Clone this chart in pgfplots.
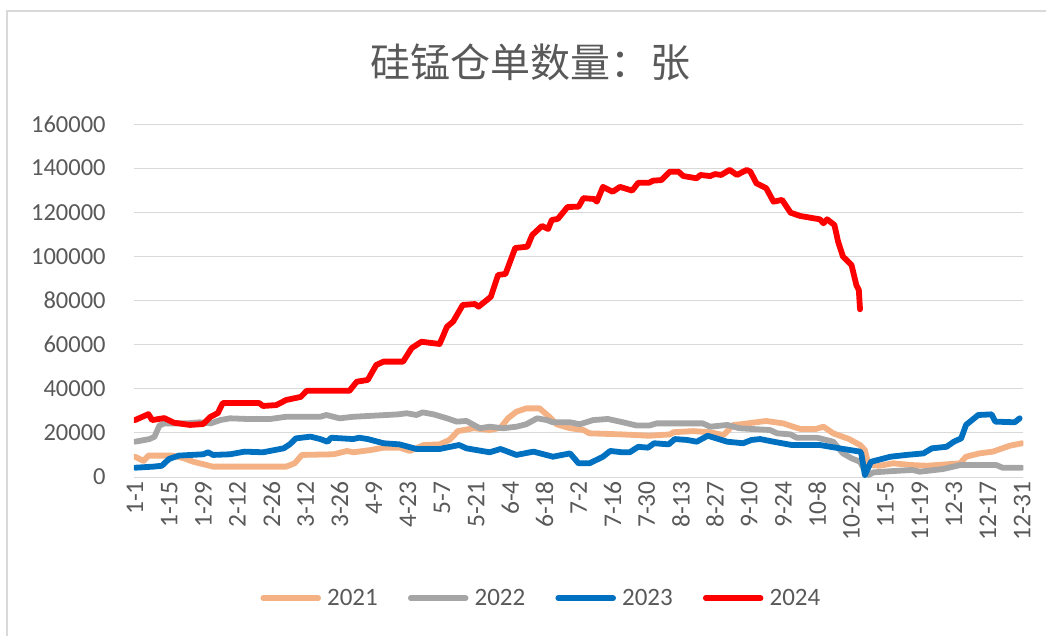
\documentclass[border=0pt]{standalone}
\usepackage{pgfplots}
\pgfplotsset{compat=1.18}
\usepackage{fontspec}
\setmainfont{Carlito}
\newfontfamily\cjk{Noto Sans CJK SC}
\definecolor{c21}{HTML}{F4B183}
\definecolor{c22}{HTML}{A5A5A5}
\definecolor{c23}{HTML}{0070C0}
\definecolor{c24}{HTML}{FF0000}
\definecolor{gridc}{HTML}{D9D9D9}
\definecolor{txt}{HTML}{595959}
\begin{document}
\begin{tikzpicture}
\useasboundingbox (0pt,0pt) rectangle (1046pt,-636pt);
\draw[gridc, line width=1.5pt] (7pt,-640pt) -- (7pt,-11pt) -- (1050pt,-11pt);
\node[font=\cjk\fontsize{40}{48}\selectfont, text=txt] at (530pt,-62pt) {硅锰仓单数量：张};
\begin{axis}[
  at={(133.8pt,-477pt)}, anchor=south west,
  scale only axis, width=889.5pt, height=353pt,
  xmin=-0.5, xmax=364.5, ymin=0, ymax=160000,
  ytick={0,20000,40000,60000,80000,100000,120000,140000,160000},
  yticklabels={0,20000,40000,60000,80000,100000,120000,140000,160000},
  xtick={0,14,...,364},
  xticklabels={1-1,1-15,1-29,2-12,2-26,3-12,3-26,4-9,4-23,5-7,5-21,6-4,6-18,7-2,7-16,7-30,8-13,8-27,9-10,9-24,10-8,10-22,11-5,11-19,12-3,12-17,12-31},
  scaled y ticks=false,
  ymajorgrids, major grid style={gridc, line width=1pt},
  axis line style={draw=none}, tick style={draw=none},
  yticklabel style={font=\fontsize{24.5}{28}\selectfont, text=txt, anchor=east, inner sep=0pt, xshift=-28pt},
  xticklabel style={font=\fontsize{25.5}{28}\selectfont, text=txt, rotate=90, anchor=east, inner sep=0pt, xshift=-4pt},
  legend columns=4,
  legend style={at={(0.457,-0.343)}, anchor=center, draw=none, fill=none,
    font=\fontsize{25}{30}\selectfont, text=txt,
    nodes={inner xsep=3pt, inner ysep=0pt},
    /tikz/every even column/.append style={column sep=24pt}},
  legend image code/.code={\path (0pt,0pt) (61pt,0pt); \draw[line width=5.5pt, line cap=round] (3pt,0pt) -- (58pt,0pt);},
  every axis plot/.append style={line width=5.8pt, line join=round, line cap=round},
]
\addplot[c21] coordinates {(0,9200)(3.5,7300)(5.5,9700)(15.5,9700)(20,8500)(24,6900)(29.5,5400)(32,4700)(62,4700)(65.5,6200)(68.5,10000)(81.5,10300)(87,11800)(89.5,11200)(96.5,12200)(102,13300)(108.5,13300)(112.8,11800)(118.5,14500)(125,14800)(129,16800)(132.5,20800)(139,22100)(145.5,21300)(150,22300)(153,26600)(156.5,29600)(160.5,31100)(166,31100)(170,27300)(173,23900)(178.5,22100)(184,21300)(186.5,19800)(200,19300)(211,18700)(219.5,19300)(221,20300)(229,20800)(236,20300)(241.5,19000)(245.5,23600)(248.5,23900)(259,25400)(266,24300)(270,22800)(273,21800)(279.5,21800)(282.5,22800)(286.5,19800)(293,17200)(297.5,14500)(299.5,12200)(301,5400)(305.5,5100)(311,6200)(319,5400)(325,5100)(338.5,6200)(341,9200)(346.5,10700)(352,11500)(359,14200)(364,15300)};
\addlegendentry{2021}
\addplot[c22] coordinates {(0,16000)(6,17200)(8,18300)(10,23300)(12,24300)(21,24300)(26.5,24800)(31,24300)(35,25800)(39,26600)(46,26300)(55.5,26300)(62,27300)(76,27300)(78.5,28100)(84,26600)(89.5,27300)(98,27800)(108,28400)(111.5,28900)(115.5,28100)(118,29300)(122.5,28400)(128,26600)(132,25100)(136,25400)(141.5,22100)(145.5,22800)(151,22100)(156.5,22800)(160.5,23900)(165,26600)(169,25800)(171.5,24800)(178.5,24800)(182.5,23900)(188,25800)(194,26300)(199,25100)(206,23300)(211,23300)(214,24300)(233,24300)(236,22800)(243,23600)(248,22100)(260.5,21300)(263.5,19800)(269,19300)(271.5,17800)(280,17800)(286.5,16000)(290.5,10700)(294,8500)(297.5,6900)(299,3900)(301,900)(303,2100)(311,2700)(319,3200)(322,2400)(331.5,3600)(338.5,5400)(353.5,5400)(356,4200)(364,4200)};
\addlegendentry{2022}
\addplot[c23] coordinates {(0,4200)(7.5,4700)(11,5100)(14,8200)(18,9700)(28,10300)(30,11200)(32,10000)(39,10300)(45,11500)(52.5,11200)(61,13000)(63.5,14800)(66,17500)(72,18300)(76,17200)(79,16000)(80.5,17800)(89.5,17200)(92,17800)(95.5,17200)(102,15300)(108.5,14800)(115.5,12700)(125,12700)(133,14500)(136,13000)(145.5,11200)(150,12700)(156.5,10000)(163.5,11500)(171.5,9200)(178.5,10700)(182,6200)(186.5,6200)(192,9200)(195,11800)(200,11200)(203,11200)(206.5,13700)(210.5,13300)(213,15300)(219,14800)(221.5,17200)(226.5,16800)(230.5,16000)(235,18700)(243,16000)(249.5,15300)(253,16800)(256.5,17200)(262,16000)(269.5,14500)(281,14500)(289,13000)(297.5,11500)(298,10700)(299.5,900)(302,6900)(310,9200)(316.5,10000)(323.5,10700)(327,13000)(333,13700)(336,16000)(339,17500)(341,23600)(343,25400)(346,28100)(351.5,28400)(353,25100)(361,24800)(363,26600)};
\addlegendentry{2023}
\addplot[c24] coordinates {(0,25800)(5.5,28500)(7,25800)(12,26700)(16,24600)(22.5,23600)(28,24000)(31,27300)(34,29000)(36,33500)(51,33500)(52.5,32200)(58,32600)(62,34900)(68,36300)(70.5,39100)(88,39100)(91,43200)(95.5,44000)(99,50800)(102,52300)(110,52300)(113.5,58400)(117.5,61300)(125,60300)(128,68100)(130.5,70400)(134.5,78000)(139.5,78400)(141,77200)(146,81700)(149,91600)(152,92000)(156,103800)(161,104400)(163,109700)(167,113800)(169.5,112400)(171,116500)(173.5,117000)(177.5,122400)(182,122500)(184,126400)(188.5,126000)(189.5,124800)(192,131500)(196,129300)(199,131500)(204,129800)(206.5,133400)(211,133400)(212.5,134300)(216,134600)(219.5,138400)(223,138400)(225,136400)(230.5,135400)(232,136900)(236,136400)(238,137300)(240.5,136900)(244,139200)(247,136900)(251,139200)(252.5,138400)(255,133100)(259,130900)(262,124800)(265.5,125600)(269,119800)(273,118300)(281,116800)(282.5,115000)(284,116800)(287,114200)(288.5,106700)(290.5,99900)(294,96100)(296,87000)(297,84800)(297.5,76000)};
\addlegendentry{2024}
\end{axis}
\end{tikzpicture}
\end{document}
